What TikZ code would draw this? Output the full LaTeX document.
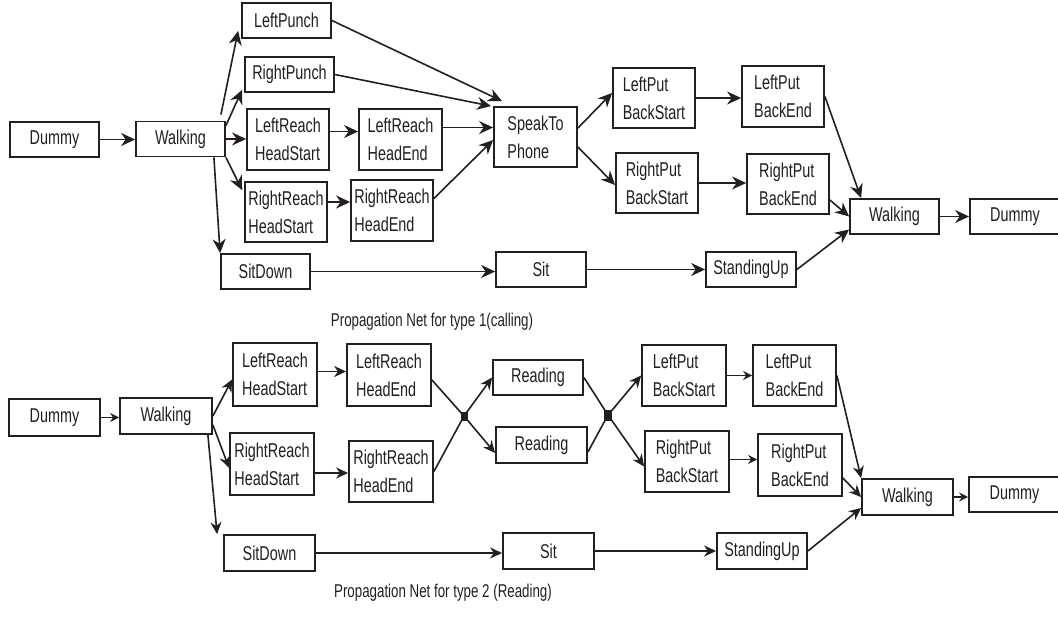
\documentclass[tikz,border=0pt]{standalone}
\usepackage{fontspec}
\newfontfamily\netfont{Liberation Sans}[FakeStretch=0.72]
\usetikzlibrary{arrows.meta}
\definecolor{Ink}{RGB}{35,31,32}
\tikzset{
  >={Stealth[length=14pt,width=13pt]},
  box/.style={draw=Ink,line width=1.8pt,fill=white,align=left,text=Ink,font=\netfont\fontsize{20}{28}\selectfont,inner xsep=2pt,inner ysep=1pt},
  onerow/.style={box,minimum width=89pt,minimum height=35pt},
  tworow/.style={box,minimum width=82pt,minimum height=61pt},
  jct/.style={fill=Ink,inner sep=0pt,minimum width=7pt,minimum height=9pt},
  flow/.style={->,line width=1.6pt,draw=Ink},
  lowflow/.style={-{Stealth[length=12pt,width=11pt]},line width=1.6pt,draw=Ink},
  smallflow/.style={-{Stealth[length=9pt,width=9pt]},line width=1.6pt,draw=Ink},
  link/.style={line width=1.6pt,draw=Ink},
  caption/.style={font=\netfont\fontsize{18.5}{22}\selectfont,text=Ink}
}
\begin{document}
\begin{tikzpicture}[x=1pt,y=-1pt]
  \useasboundingbox (0,0) rectangle (1058,619);
  % type 1 (calling)
  \node[onerow] (dumA) at (54.5,139.5) {Dummy};
  \node[onerow] (walkA) at (180.5,139) {Walking};
  \node[onerow] (lpunch) at (286.5,20.5) {LeftPunch};
  \node[onerow] (rpunch) at (289.5,74.5) {RightPunch};
  \node[tworow] (lrhsA) at (288,139.5) {LeftReach\\HeadStart};
  \node[tworow,minimum height=60pt] (rrhsA) at (286,212) {RightReach\\HeadStart};
  \node[onerow] (sitdownA) at (265.5,271.5) {SitDown};
  \node[tworow,minimum width=83pt] (lrheA) at (400.5,139.5) {LeftReach\\HeadEnd};
  \node[tworow] (rrheA) at (392,210.5) {RightReach\\HeadEnd};
  \node[tworow,minimum width=83pt,minimum height=60pt] (speak) at (535.5,137) {SpeakTo\\Phone};
  \node[onerow,minimum width=90pt] (sitA) at (541,269.5) {Sit};
  \node[tworow,minimum height=60pt] (lpbsA) at (654,98) {LeftPut\\BackStart};
  \node[tworow,minimum height=60pt] (rpbsA) at (657,183) {RightPut\\BackStart};
  \node[tworow] (lpbeA) at (783,96.5) {LeftPut\\BackEnd};
  \node[tworow,minimum height=60pt] (rpbeA) at (788,184) {RightPut\\BackEnd};
  \node[onerow] (walkA2) at (894.5,216.5) {Walking};
  \node[onerow,minimum width=90pt] (dumA2) at (1015,216.5) {Dummy};
  \node[onerow,minimum width=90pt] (standA) at (751,269.5) {StandingUp};
  \node[caption] (capA) at (432,322) {Propagation Net for type 1(calling)};
  \draw[flow] (dumA.east) -- (dumA.east -| walkA.west);
  \draw[flow] ([xshift=-5pt,yshift=6pt]walkA.north east) -- ([xshift=-3pt,yshift=8pt]lpunch.south west);
  \draw[flow] ([yshift=-5pt]walkA.north east) -- ([xshift=-2pt,yshift=3pt]rpunch.south west);
  \draw[flow] (walkA.east) -- (walkA.east -| lrhsA.west);
  \draw[flow] (walkA.south east) -- ([xshift=-2pt,yshift=-9pt]rrhsA.north west);
  \draw[flow] ([xshift=-12pt]walkA.south east) -- (sitdownA.north west);
  \draw[flow] (lpunch.east) -- ([xshift=9pt,yshift=5pt]speak.north west);
  \draw[flow] (rpunch.east) -- ([xshift=-2pt]speak.north west);
  \draw[flow] ([yshift=8pt]lrhsA.east) -- ([yshift=8pt]lrhsA.east -| lrheA.west);
  \draw[flow] ([yshift=10pt]rrhsA.east) -- ([yshift=10pt]rrhsA.east -| rrheA.west);
  \draw[flow] ([yshift=12pt]lrheA.east) -- ([yshift=12pt]lrheA.east -| speak.west);
  \draw[flow] ([yshift=12pt]rrheA.east) -- ([yshift=-3pt]speak.west);
  \draw[flow] ([yshift=9pt]speak.east) -- ([yshift=5pt]lpbsA.west);
  \draw[flow] ([yshift=-10pt]speak.east) -- ([yshift=-2pt]rpbsA.west);
  \draw[flow] (lpbsA.east) -- (lpbsA.east -| lpbeA.west);
  \draw[flow] (rpbsA.east) -- (rpbsA.east -| rpbeA.west);
  \draw[flow] (lpbeA.east) -- ([xshift=12pt]walkA2.north west);
  \draw[flow] ([yshift=-16pt]rpbeA.east) -- (walkA2.west);
  \draw[flow] (standA.east) -- ([yshift=-13pt]walkA2.west);
  \draw[flow] (walkA2.east) -- (walkA2.east -| dumA2.west);
  \draw[flow] (sitdownA.east) -- (sitdownA.east -| sitA.west);
  \draw[flow] (sitA.east) -- (standA.west);
  % type 2 (reading)
  \node[onerow,minimum width=91pt,minimum height=37pt] (dumB) at (54.5,417.5) {Dummy};
  \node[onerow,minimum width=92pt,minimum height=36pt] (walkB) at (166,416) {Walking};
  \node[tworow,minimum width=84pt,minimum height=63pt] (lrhsB) at (275,374.5) {LeftReach\\HeadStart};
  \node[tworow,minimum width=84pt,minimum height=62pt] (rrhsB) at (272,464) {RightReach\\HeadStart};
  \node[onerow,minimum width=91pt,minimum height=36pt] (sitdownB) at (269.5,553) {SitDown};
  \node[tworow,minimum width=84pt,minimum height=62pt] (lrheB) at (389,375) {LeftReach\\HeadEnd};
  \node[tworow,minimum width=84pt] (rrheB) at (391,471.5) {RightReach\\HeadEnd};
  \node[onerow,minimum width=90pt] (readA) at (538,377.5) {Reading};
  \node[onerow,minimum width=91pt,minimum height=36pt] (readB) at (541.5,445) {Reading};
  \node[onerow,minimum width=91pt,minimum height=36pt] (sitB) at (548.5,551) {Sit};
  \node[tworow,minimum width=84pt] (lpbsB) at (684,375.5) {LeftPut\\BackStart};
  \node[tworow,minimum width=84pt] (rpbsB) at (687,461.5) {RightPut\\BackStart};
  \node[tworow,minimum width=83pt] (lpbeB) at (794.5,375.5) {LeftPut\\BackEnd};
  \node[tworow,minimum width=84pt,minimum height=62pt] (rpbeB) at (800,465) {RightPut\\BackEnd};
  \node[onerow,minimum width=91pt,minimum height=36pt] (walkB2) at (907.5,497) {Walking};
  \node[onerow,minimum width=91pt] (dumB2) at (1014.5,494.5) {Dummy};
  \node[onerow,minimum width=90pt,minimum height=36pt] (standB) at (762,551) {StandingUp};
  \node[caption] (capB) at (443,593) {Propagation Net for type 2 (Reading)};
  \coordinate (jA) at (464,416);
  \coordinate (jB) at (608,415);
  \draw[smallflow] (dumB.east) -- (dumB.east -| walkB.west);
  \draw[lowflow] (walkB.east) -- ([yshift=-5pt]lrhsB.west);
  \draw[lowflow] ([yshift=-9pt]walkB.east) -- ([yshift=-4pt]rrhsB.west);
  \draw[lowflow] ([xshift=-5pt]walkB.south east) -- ([xshift=-6pt]sitdownB.north west);
  \draw[lowflow] ([yshift=3pt]lrhsB.east) -- ([yshift=3pt]lrhsB.east -| lrheB.west);
  \draw[lowflow] ([yshift=-9pt]rrhsB.east) -- ([yshift=-9pt]rrhsB.east -| rrheB.west);
  \draw[link] ([yshift=-5pt]lrheB.east) -- (jA);
  \draw[link] (rrheB.east) -- (jA);
  \draw[lowflow] (jA) -- (readA.west);
  \draw[lowflow] (jA) -- ([yshift=-8pt]readB.west);
  \draw[link] (readA.east) -- (jB);
  \draw[link] ([yshift=-7pt]readB.east) -- (jB);
  \draw[lowflow] (jB) -- (lpbsB.west);
  \draw[lowflow] (jB) -- ([yshift=-5pt]rpbsB.west);
  \draw[smallflow] (lpbsB.east) -- (lpbsB.east -| lpbeB.west);
  \draw[smallflow] ([yshift=2pt]rpbsB.east) -- ([yshift=2pt]rpbsB.east -| rpbeB.west);
  \draw[lowflow] (lpbeB.east) -- (walkB2.north west);
  \draw[lowflow] ([yshift=-13pt]rpbeB.east) -- (walkB2.west);
  \draw[lowflow] (standB.east) -- ([yshift=-11pt]walkB2.west);
  \draw[smallflow] (walkB2.east) -- (walkB2.east -| dumB2.west);
  \draw[lowflow] (sitdownB.east) -- (sitdownB.east -| sitB.west);
  \draw[lowflow] (sitB.east) -- (standB.west);
  \node[jct] (jAbox) at (jA) {};
  \node[jct,minimum width=8pt,minimum height=11pt] (jBbox) at (jB) {};
\end{tikzpicture}
\end{document}
